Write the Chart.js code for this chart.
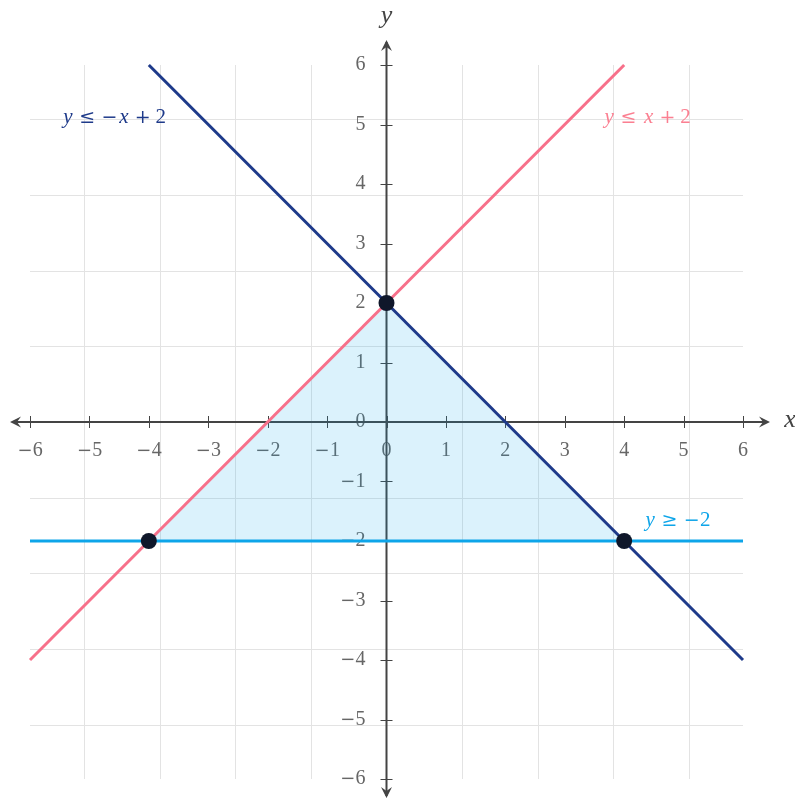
<!DOCTYPE html>
<html>
<head>
<meta charset="utf-8">
<script src="https://cdn.jsdelivr.net/npm/chart.js@4"></script>
<style>html,body{margin:0;background:#fff}</style>
</head>
<body>
<canvas id="ctx" width="795" height="799"></canvas>
<script>
'use strict';
// tick values on both axes
const xTicks = [-6, -5, -4, -3, -2, -1, 0, 1, 2, 3, 4, 5, 6];
const yTicks = [-6, -5, -4, -3, -2, -1, 0, 1, 2, 3, 4, 5, 6];

// boundary lines (end points)
const riseX = [-6, 4];   // y = x + 2
const riseY = [-4, 6];
const fallX = [-4, 6];   // y = -x + 2
const fallY = [6, -4];
const floorX = [-6, 6];  // y = -2
const floorY = [-2, -2];

// vertices of the feasible region
const cornerX = [-4, 0, 4];
const cornerY = [-2, 2, -2];

const SERIF = '"Liberation Serif", serif';
const SYMB = '"DejaVu Serif", serif';
const GRID_STEP = 1.272; // background grid is not on the unit ticks

const pts = (xs, ys) => xs.map((v, i) => ({x: v, y: ys[i]}));

// math pieces: [text, style (0 upright, 1 italic, 2 symbol), advance in em]
const SP_THICK = ['', 0, 0.28], SP_MED = ['', 0, 0.22];
const M = {
  y: ['y', 1, 0.5], x: ['x', 1, 0.58],
  le: ['\u2264', 2, 0.78], ge: ['\u2265', 2, 0.78],
  minus: ['\u2212', 2, 0.78], plus: ['+', 2, 0.78]
};
const digit = d => [String(d), 0, 0.5];

const labels = [
  {at: [-4.58, 5.12], color: '#1e3a8a',
   parts: [M.y, SP_THICK, M.le, SP_THICK, M.minus, M.x, SP_MED, M.plus, SP_MED, digit(2)]},
  {at: [4.39, 5.12], color: 'rgba(251,113,133,0.9)',
   parts: [M.y, SP_THICK, M.le, SP_THICK, M.x, SP_MED, M.plus, SP_MED, digit(2)]},
  {at: [4.9, -1.65], color: '#0ea5e9',
   parts: [M.y, SP_THICK, M.ge, SP_THICK, M.minus, digit(2)]}
];

const numParts = v => (v < 0 ? [M.minus] : []).concat(String(Math.abs(v)).split('').map(digit));

function drawMath(ctx, parts, px, py, color, size, align) {
  const w = parts.reduce((s, p) => s + p[2] * size, 0);
  let cx = align === 'right' ? px - w : px - w / 2;
  ctx.fillStyle = color;
  ctx.textAlign = 'center';
  ctx.textBaseline = 'middle';
  parts.forEach(([t, st, adv]) => {
    const a = adv * size;
    if (t) {
      ctx.font = st === 2 ? Math.round(size * 0.92) + 'px ' + SYMB
        : (st === 1 ? 'italic ' : '') + size + 'px ' + SERIF;
      ctx.fillText(t, cx + a / 2, py + (st === 2 ? 0.5 : 0));
    }
    cx += a;
  });
}

function arrowHead(ctx, tx, ty, dx, dy) {
  // stealth style head pointing along (dx, dy)
  const nx = -dy, ny = dx;
  ctx.beginPath();
  ctx.moveTo(tx, ty);
  ctx.lineTo(tx - dx * 11 + nx * 5.5, ty - dy * 11 + ny * 5.5);
  ctx.lineTo(tx - dx * 7, ty - dy * 7);
  ctx.lineTo(tx - dx * 11 - nx * 5.5, ty - dy * 11 - ny * 5.5);
  ctx.closePath();
  ctx.fill();
}

const planePlugin = {
  id: 'plane',
  beforeDatasetsDraw(chart) {
    const {ctx, scales: {x, y}} = chart;
    const x0 = x.getPixelForValue(0), y0 = y.getPixelForValue(0);
    ctx.save();
    // grid
    ctx.strokeStyle = '#e3e3e3';
    ctx.lineWidth = 1;
    for (let k = -4; k <= 4; k++) {
      if (k === 0) continue;
      const gx = Math.round(x.getPixelForValue(k * GRID_STEP)) + 0.5;
      const gy = Math.round(y.getPixelForValue(k * GRID_STEP)) + 0.5;
      ctx.beginPath();
      ctx.moveTo(gx, y.top); ctx.lineTo(gx, y.bottom);
      ctx.moveTo(x.left, gy); ctx.lineTo(x.right, gy);
      ctx.stroke();
    }
    // tick labels
    xTicks.forEach(v => {
      drawMath(ctx, numParts(v), x.getPixelForValue(v), y0 + 29, '#666', 20, 'center');
    });
    yTicks.forEach(v => {
      drawMath(ctx, numParts(v), x0 - 21, y.getPixelForValue(v), '#666', 20, 'right');
    });
    // axes
    ctx.strokeStyle = '#444';
    ctx.fillStyle = '#444';
    ctx.lineWidth = 2;
    ctx.beginPath();
    ctx.moveTo(x.left - 18, y0); ctx.lineTo(x.right + 25, y0);
    ctx.moveTo(x0, y.top - 23); ctx.lineTo(x0, y.bottom + 17);
    ctx.stroke();
    arrowHead(ctx, x.right + 27, y0, 1, 0);
    arrowHead(ctx, x.left - 20, y0, -1, 0);
    arrowHead(ctx, x0, y.top - 25, 0, -1);
    arrowHead(ctx, x0, y.bottom + 19, 0, 1);
    // tick marks
    ctx.lineWidth = 1;
    ctx.beginPath();
    xTicks.forEach(v => {
      const px = Math.round(x.getPixelForValue(v)) + 0.5;
      ctx.moveTo(px, y0 - 6); ctx.lineTo(px, y0 + 6);
    });
    yTicks.forEach(v => {
      const py = Math.round(y.getPixelForValue(v)) + 0.5;
      ctx.moveTo(x0 - 6, py); ctx.lineTo(x0 + 6, py);
    });
    ctx.stroke();
    // axis names
    ctx.fillStyle = '#444';
    ctx.font = 'italic 26px ' + SERIF;
    ctx.textAlign = 'center';
    ctx.textBaseline = 'middle';
    ctx.fillText('x', x.right + 47, y0 - 2);
    ctx.fillText('y', x0, y.top - 49);
    ctx.restore();
  },
  afterDatasetsDraw(chart) {
    const {ctx, scales: {x, y}} = chart;
    ctx.save();
    labels.forEach(l => {
      drawMath(ctx, l.parts, x.getPixelForValue(l.at[0]), y.getPixelForValue(l.at[1]), l.color, 21, 'center');
    });
    ctx.restore();
  }
};

new Chart(document.getElementById('ctx'), {
  type: 'scatter',
  data: {
    datasets: [
      {data: pts(cornerX, cornerY), showLine: false, pointRadius: 8, pointHoverRadius: 8,
       backgroundColor: '#0f172a', borderColor: '#0f172a', borderWidth: 0, order: 0},
      {data: pts(riseX, riseY), showLine: true, pointRadius: 0, borderColor: '#f7708a', borderWidth: 3, order: 1},
      {data: pts(fallX, fallY), showLine: true, pointRadius: 0, borderColor: '#1e3a8a', borderWidth: 3, order: 2},
      {data: pts(floorX, floorY), showLine: true, pointRadius: 0, borderColor: '#0ea5e9', borderWidth: 3, order: 3},
      {data: pts(cornerX, cornerY), showLine: true, pointRadius: 0, borderWidth: 0,
       borderColor: 'rgba(0,0,0,0)', backgroundColor: 'rgba(14,165,233,0.15)', fill: {value: -2}, order: 4}
    ]
  },
  options: {
    responsive: false,
    animation: false,
    devicePixelRatio: 1,
    layout: {autoPadding: false, padding: {left: 30, right: 52, top: 65, bottom: 20}},
    scales: {
      x: {type: 'linear', min: -6, max: 6, display: false},
      y: {type: 'linear', min: -6, max: 6, display: false}
    },
    plugins: {legend: {display: false}, tooltip: {enabled: false}},
    clip: false
  },
  plugins: [planePlugin]
});
</script>
</body>
</html>
